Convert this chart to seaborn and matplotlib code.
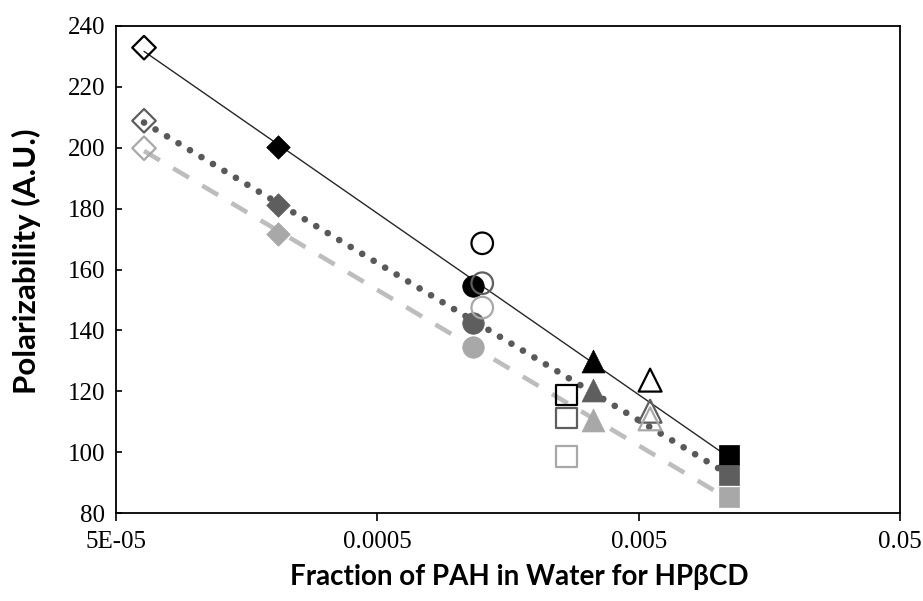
import numpy as np
import pandas as pd
import matplotlib
matplotlib.use("Agg")
import matplotlib.pyplot as plt
from matplotlib.ticker import FixedLocator, FixedFormatter, NullLocator
import seaborn as sns

# ---- data ----
groups = ["open diamond", "filled diamond", "filled circle", "open circle",
          "open square", "filled triangle", "open triangle", "filled square"]
x_frac = [6.4e-5, 2.09e-4, 1.165e-3, 1.26e-3, 2.65e-3, 3.33e-3, 5.53e-3, 1.11e-2]
y_black = [232.8, 200.3, 154.7, 168.6, 118.8, 130.0, 123.7, 99.1]
y_gray = [208.8, 181.2, 142.3, 155.5, 111.2, 120.5, 113.5, 92.6]
y_light = [199.8, 171.6, 134.7, 147.5, 98.6, 110.6, 111.0, 85.2]
used_in_fit = [True, True, True, False, False, True, False, True]

x_ticks = [5e-5, 5e-4, 5e-3, 5e-2]
x_tick_labels = ["5E-05", "0.0005", "0.005", "0.05"]
y_ticks = [80, 100, 120, 140, 160, 180, 200, 220, 240]

# ---- styles ----
marker_of = {"diamond": "D", "circle": "o", "square": "s", "triangle": "^"}
size_of = {"D": 12.0 ** 2, "o": 15.5 ** 2, "s": 14.8 ** 2, "^": 16.5 ** 2}
series = [
    ("black", y_black, "#000000", dict(linestyle="-", linewidth=1.0, color="#262626")),
    ("gray", y_gray, "#5e5e5e", dict(linestyle=(0, (0.01, 2.0)), linewidth=4.8,
                                     color="#595959", dash_capstyle="round")),
    ("light", y_light, "#a8a8a8", dict(linestyle=(0, (4.0, 3.4)), linewidth=3.3,
                                       color="#bdbdbd", dash_capstyle="butt")),
]

sns.set_theme(style="white")
plt.rcParams["font.serif"] = ["Liberation Serif", "DejaVu Serif"]
plt.rcParams["font.family"] = "serif"

fig = plt.figure(figsize=(9.23, 6.01), dpi=100)
ax = fig.add_axes([116 / 923, 1 - 513.3 / 601, (900 - 116) / 923, (513.3 - 25.7) / 601])

for name, yv, col, lkw in series:
    df = pd.DataFrame({"x": x_frac, "y": yv, "group": groups, "fit": used_in_fit})
    fit_df = df[df["fit"]]
    sns.regplot(data=fit_df, x="x", y="y", logx=True, ci=None, scatter=False,
                truncate=True, ax=ax, line_kws=dict(zorder=2, **lkw))
    for _, row in df.iterrows():
        kind, shape = row["group"].split(" ")
        m = marker_of[shape]
        if kind == "filled":
            sns.scatterplot(x=[row["x"]], y=[row["y"]], marker=m, s=size_of[m],
                            color=col, edgecolor=col, linewidth=0.5, ax=ax,
                            zorder=3, legend=False)
        else:
            sns.scatterplot(x=[row["x"]], y=[row["y"]], marker=m, s=size_of[m],
                            facecolor="none", edgecolor=col, linewidth=1.6, ax=ax,
                            zorder=3, legend=False)

ax.set_xscale("log")
ax.set_xlim(5e-5, 5e-2)
ax.set_ylim(80, 240)
ax.xaxis.set_major_locator(FixedLocator(x_ticks))
ax.xaxis.set_major_formatter(FixedFormatter(x_tick_labels))
ax.xaxis.set_minor_locator(NullLocator())
ax.set_yticks(y_ticks)

for sp in ax.spines.values():
    sp.set_visible(True)
    sp.set_color("black")
    sp.set_linewidth(1.3)

ax.tick_params(axis="x", direction="out", length=6, width=1.2, color="black",
               labelsize=18, pad=7, labelcolor="black", bottom=True,
               labelfontfamily="Liberation Serif")
ax.tick_params(axis="y", direction="in", length=4, width=1.2, color="black",
               labelsize=18, pad=8, labelcolor="black", left=True,
               labelfontfamily="Liberation Serif")
ax.grid(False)

ax.set_xlabel("Fraction of PAH in Water for HP\u03b2CD", family=["Lato", "DejaVu Sans"],
              weight="bold", size=20, color="black")
ax.set_ylabel("Polarizability (A.U.)", family=["Lato", "DejaVu Sans"],
              weight="bold", size=22.5, color="black")
ax.xaxis.label.set_va("center")
ax.yaxis.label.set_va("center")
ax.xaxis.set_label_coords(0.514, (513.3 - 577) / 487.6)
ax.yaxis.set_label_coords((26 - 116) / 784, (513.3 - 261) / 487.6)

fig.savefig("out.png", dpi=100, facecolor="white")
